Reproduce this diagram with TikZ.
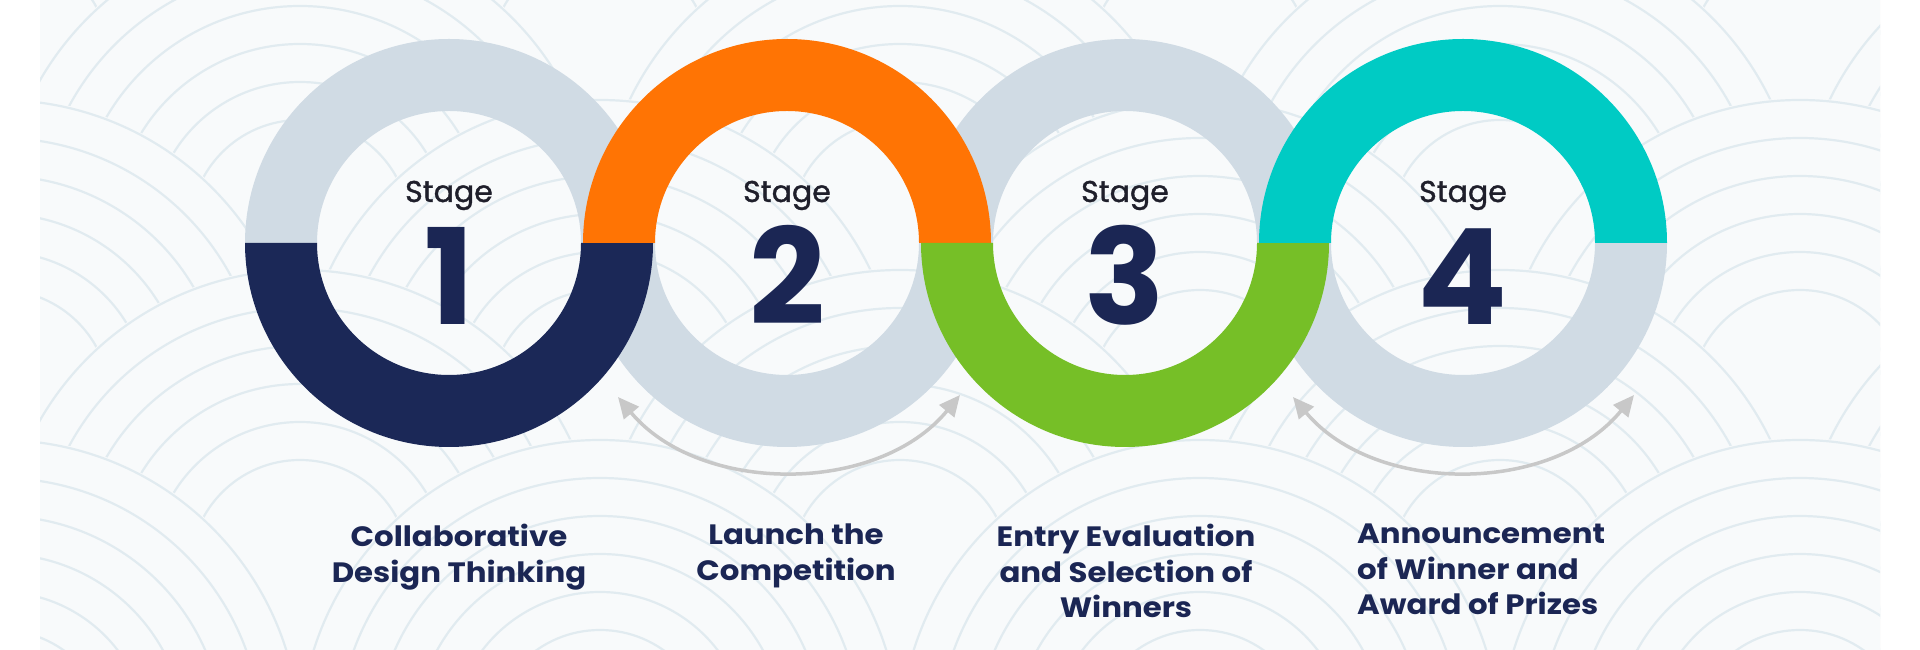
\documentclass[tikz,border=0pt]{standalone}
\usepackage{fontspec}
\setmainfont{Poppins}
\newfontfamily\stagefont{Poppins}[FakeBold=1.2]
\newfontfamily\labelfont{Poppins}[FakeStretch=1.1]
\usetikzlibrary{arrows.meta}
\definecolor{ringgray}{HTML}{D0DBE4}
\definecolor{ringnavy}{HTML}{1B2857}
\definecolor{ringorange}{HTML}{FF7404}
\definecolor{ringgreen}{HTML}{76BF27}
\definecolor{ringteal}{HTML}{00CBC4}
\definecolor{arrgray}{HTML}{C8C8C8}
\definecolor{txtnavy}{HTML}{1B2654}
\definecolor{panelbg}{HTML}{F8FAFB}
\definecolor{patline}{HTML}{E1EBF0}
\definecolor{stagetxt}{HTML}{1F1F2B}
\newcommand\ringtop[3]{\fill[#3] (#1+204,#2) arc[start angle=0,end angle=180,radius=204] -- (#1-132,#2) arc[start angle=180,end angle=0,radius=132] -- cycle;}
\newcommand\ringbot[3]{\fill[#3] (#1-204,#2) arc[start angle=180,end angle=360,radius=204] -- (#1+132,#2) arc[start angle=360,end angle=180,radius=132] -- cycle;}
\begin{document}
\begin{tikzpicture}[x=1pt,y=1pt,
  stg/.style={font=\stagefont\fontsize{30}{36}\selectfont, text=stagetxt, inner sep=0pt, anchor=base},
  num/.style={font=\bfseries\fontsize{133}{140}\selectfont, text=txtnavy, inner sep=0pt, anchor=base},
  lbl/.style={font=\labelfont\bfseries\fontsize{28}{35.5}\selectfont, text=txtnavy, inner sep=0pt},
  arr/.style={draw=arrgray, line width=3.5pt, {Triangle[length=21pt,width=19pt]}-{Triangle[length=21pt,width=19pt]}}]
\useasboundingbox (0,0) rectangle (1920,650);
\fill[white] (0,0) rectangle (1920,650);
\fill[panelbg] (40,0) rectangle (1880,650);
% background scale pattern
\begin{scope}
\clip (40,0) rectangle (1880,650);
\foreach \k in {0,...,5}{
  \pgfmathsetmacro\yy{760-\k*170}
  \pgfmathsetmacro\off{mod(\k,2)*300}
  \foreach \j in {0,...,4}{
    \pgfmathsetmacro\xx{-300+\off+\j*600}
    \fill[panelbg] (\xx,\yy) circle (302);
    \foreach \rr in {300,262,224,186,148,110}{
      \draw[patline, line width=2.2pt] (\xx,\yy) circle (\rr);
    }
  }
}
\end{scope}
% gray halves
\ringtop{449}{407}{ringgray}
\ringbot{787}{407}{ringgray}
\ringtop{1125}{407}{ringgray}
\ringbot{1463}{407}{ringgray}
% coloured halves
\ringbot{449}{407}{ringnavy}
\ringtop{787}{407}{ringorange}
\ringbot{1125}{407}{ringgreen}
\ringtop{1463}{407}{ringteal}
% texts
\node[stg] (s1) at (449,448) {Stage};
\node[stg] (s2) at (787,448) {Stage};
\node[stg] (s3) at (1125,448) {Stage};
\node[stg] (s4) at (1463,448) {Stage};
\node[num] (n1) at (449,325) {1};
\node[num] (n2) at (787,325) {2};
\node[num] (n3) at (1125,325) {3};
\node[num] (n4) at (1463,325) {4};
% arrows
\coordinate (a1s) at (618,253);
\coordinate (a1e) at (960,255);
\coordinate (a2s) at (1293,253);
\coordinate (a2e) at (1634,255);
\draw[arr] (a1s) .. controls (700,155) and (878,155) .. (a1e);
\draw[arr] (a2s) .. controls (1375,155) and (1552,155) .. (a2e);
% labels
\node[lbl, anchor=north, align=center] (l1) at (459,126) {Collaborative\\Design Thinking};
\node[lbl, anchor=north, align=center] (l2) at (796,126) {Launch the\\Competition};
\node[lbl, anchor=north, align=center] (l3) at (1126,126) {Entry Evaluation\\and Selection of\\Winners};
\node[lbl, anchor=north west, align=left] (l4) at (1357,126) {Announcement\\of Winner and\\Award of Prizes};
\end{tikzpicture}
\end{document}
